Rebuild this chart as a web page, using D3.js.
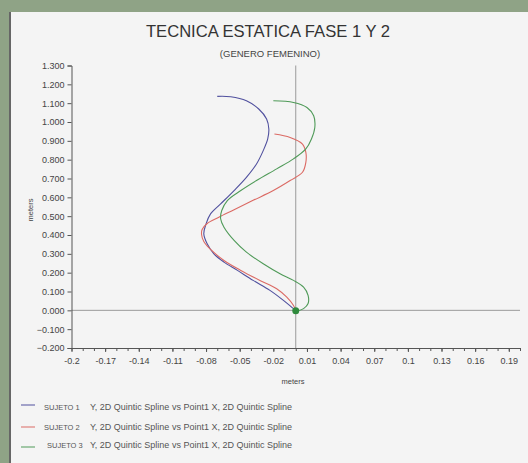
<!DOCTYPE html>
<html>
<head>
<meta charset="utf-8">
<script src="https://cdn.jsdelivr.net/npm/d3@7"></script>
<style>
  body { margin: 0; background: #8fa386; }
  svg { display: block; font-family: Arial, "Liberation Sans", sans-serif; }
</style>
</head>
<body>
<div id="chart"></div>
<script>
// series (x in meters, y in meters)
var sujeto1X = [-0.070, -0.058, -0.044, -0.033, -0.026, -0.024, -0.025, -0.029, -0.035, -0.044, -0.055, -0.067, -0.076, -0.080, -0.082, -0.079, -0.073, -0.064, -0.052, -0.038, -0.023, -0.011, -0.002, 0.000];
var sujeto1Y = [1.136, 1.134, 1.113, 1.069, 1.016, 0.963, 0.910, 0.848, 0.777, 0.706, 0.636, 0.565, 0.512, 0.459, 0.406, 0.353, 0.300, 0.256, 0.212, 0.159, 0.106, 0.053, 0.009, 0.000];

var sujeto2X = [-0.019, -0.005, 0.006, 0.009, 0.009, 0.006, -0.005, -0.020, -0.038, -0.055, -0.069, -0.079, -0.0835, -0.084, -0.082, -0.075, -0.064, -0.049, -0.032, -0.017, -0.008, -0.002, 0.000];
var sujeto2Y = [0.936, 0.918, 0.883, 0.839, 0.786, 0.733, 0.689, 0.636, 0.584, 0.534, 0.493, 0.461, 0.429, 0.403, 0.366, 0.318, 0.265, 0.212, 0.159, 0.115, 0.070, 0.026, 0.000];

var sujeto3X = [-0.020, -0.002, 0.010, 0.016, 0.017, 0.014, 0.009, -0.002, -0.017, -0.035, -0.049, -0.061, -0.066, -0.067, -0.064, -0.055, -0.044, -0.029, -0.014, -0.002, 0.007, 0.011, 0.011, 0.007, 0.001];
var sujeto3Y = [1.113, 1.104, 1.077, 1.033, 0.971, 0.910, 0.857, 0.804, 0.751, 0.689, 0.636, 0.583, 0.530, 0.486, 0.441, 0.371, 0.309, 0.247, 0.194, 0.159, 0.123, 0.079, 0.036, 0.009, -0.005];

var seriesNames = ["SUJETO 1", "SUJETO 2", "SUJETO 3"];
var seriesDesc = "Y, 2D Quintic Spline vs Point1 X, 2D Quintic Spline";
var seriesColors = ["#50509e", "#db6a64", "#4f9a58"];

var xTickLabels = [-0.2, -0.17, -0.14, -0.11, -0.08, -0.05, -0.02, 0.01, 0.04, 0.07, 0.1, 0.13, 0.16, 0.19];
var yTickLabels = [-0.2, -0.1, 0, 0.1, 0.2, 0.3, 0.4, 0.5, 0.6, 0.7, 0.8, 0.9, 1.0, 1.1, 1.2, 1.3];
var startPoint = [0.0, -0.002];

var width = 528, height = 463;

var svg = d3.select("#chart").append("svg")
    .attr("width", width)
    .attr("height", height);

// panel
svg.append("rect").attr("x", 9).attr("y", 12).attr("width", width - 9).attr("height", height - 12)
    .style("fill", "#f4f4f4");
svg.append("line").attr("x1", 10).attr("y1", 12).attr("x2", 10).attr("y2", height)
    .style("stroke", "#666").style("stroke-width", 2);

var xScale = d3.scaleLinear().domain([-0.2, 0.2]).range([71.5, 520]);
var yScale = d3.scaleLinear().domain([-0.2, 1.3]).range([348, 65.5]);

// title
svg.append("text").attr("x", 268).attr("y", 37)
    .style("font-size", "16.6px").style("fill", "#333").style("text-anchor", "middle")
    .text("TECNICA ESTATICA FASE 1 Y 2");
svg.append("text").attr("x", 270).attr("y", 57)
    .style("font-size", "9.5px").style("fill", "#444").style("text-anchor", "middle")
    .text("(GENERO FEMENINO)");

// zero lines
svg.append("line")
    .attr("x1", xScale(-0.2)).attr("x2", xScale(0.2))
    .attr("y1", yScale(0)).attr("y2", yScale(0))
    .style("stroke", "#9a9a9a").style("stroke-width", 1);
svg.append("line")
    .attr("x1", xScale(0)).attr("x2", xScale(0))
    .attr("y1", yScale(1.3)).attr("y2", yScale(-0.2))
    .style("stroke", "#9a9a9a").style("stroke-width", 1);

// y axis
var yAxis = svg.append("g")
    .attr("transform", "translate(" + xScale(-0.2) + ",0)")
    .call(d3.axisLeft(yScale).tickValues(yTickLabels).tickFormat(d3.format(".3f")).tickSize(4).tickPadding(3));
yAxis.select(".domain").style("stroke", "#555");
yAxis.selectAll(".tick line").style("stroke", "#555");
yAxis.selectAll("text").style("font-size", "9px").style("fill", "#444").style("font-family", "Arial, 'Liberation Sans', sans-serif");

// x axis: minor ticks every 0.01
var minorTicks = d3.range(-20, 21).map(function(d){ return d / 100; });
var xMinor = svg.append("g")
    .attr("transform", "translate(0," + yScale(-0.2) + ")")
    .call(d3.axisBottom(xScale).tickValues(minorTicks).tickFormat("").tickSize(3).tickSizeOuter(0));
xMinor.select(".domain").style("stroke", "#555");
xMinor.selectAll(".tick line").style("stroke", "#555");

var xAxis = svg.append("g")
    .attr("transform", "translate(0," + yScale(-0.2) + ")")
    .call(d3.axisBottom(xScale).tickValues(xTickLabels).tickFormat(function(d){ return String(d); }).tickSize(4).tickSizeOuter(0).tickPadding(6));
xAxis.select(".domain").remove();
xAxis.selectAll(".tick line").style("stroke", "#555");
xAxis.selectAll("text").style("font-size", "9px").style("fill", "#444").style("font-family", "Arial, 'Liberation Sans', sans-serif");

// axis titles
svg.append("text").attr("x", 293).attr("y", 384)
    .style("font-size", "7.5px").style("fill", "#444").style("text-anchor", "middle")
    .text("meters");
svg.append("text").attr("transform", "translate(33,210) rotate(-90)")
    .style("font-size", "7.5px").style("fill", "#444").style("text-anchor", "middle")
    .text("meters");

// curves
var line = d3.line()
    .x(function(d){ return xScale(d[0]); })
    .y(function(d){ return yScale(d[1]); })
    .curve(d3.curveCatmullRom.alpha(0.5));

var allX = [sujeto1X, sujeto2X, sujeto3X];
var allY = [sujeto1Y, sujeto2Y, sujeto3Y];

svg.append("g").selectAll("path").data(seriesNames).enter()
    .append("path")
      .attr("d", function(d, i){ return line(d3.zip(allX[i], allY[i])); })
      .style("fill", "none")
      .style("stroke", function(d, i){ return seriesColors[i]; })
      .style("stroke-width", 1.1);

// start point marker
svg.append("circle")
    .attr("cx", xScale(startPoint[0])).attr("cy", yScale(startPoint[1]))
    .attr("r", 3.5)
    .style("fill", "#2f8a3c");

// legend
var legendLineY = [405, 427, 447];
var legendTextY = [410, 430, 448];
var legendNameX = [44, 44, 47];

var legend = svg.append("g");
legend.selectAll("line").data(seriesNames).enter()
    .append("line")
      .attr("x1", 21).attr("x2", 35)
      .attr("y1", function(d, i){ return legendLineY[i]; })
      .attr("y2", function(d, i){ return legendLineY[i]; })
      .style("stroke", function(d, i){ return seriesColors[i]; })
      .style("stroke-width", 1);
legend.selectAll("text.name").data(seriesNames).enter()
    .append("text").attr("class", "name")
      .attr("x", function(d, i){ return legendNameX[i]; })
      .attr("y", function(d, i){ return legendTextY[i]; })
      .style("font-size", "7.5px").style("fill", "#555")
      .text(function(d){ return d; });
legend.selectAll("text.desc").data(seriesNames).enter()
    .append("text").attr("class", "desc")
      .attr("x", 90)
      .attr("y", function(d, i){ return legendTextY[i]; })
      .style("font-size", "9px").style("fill", "#555")
      .text(seriesDesc);
</script>
</body>
</html>
